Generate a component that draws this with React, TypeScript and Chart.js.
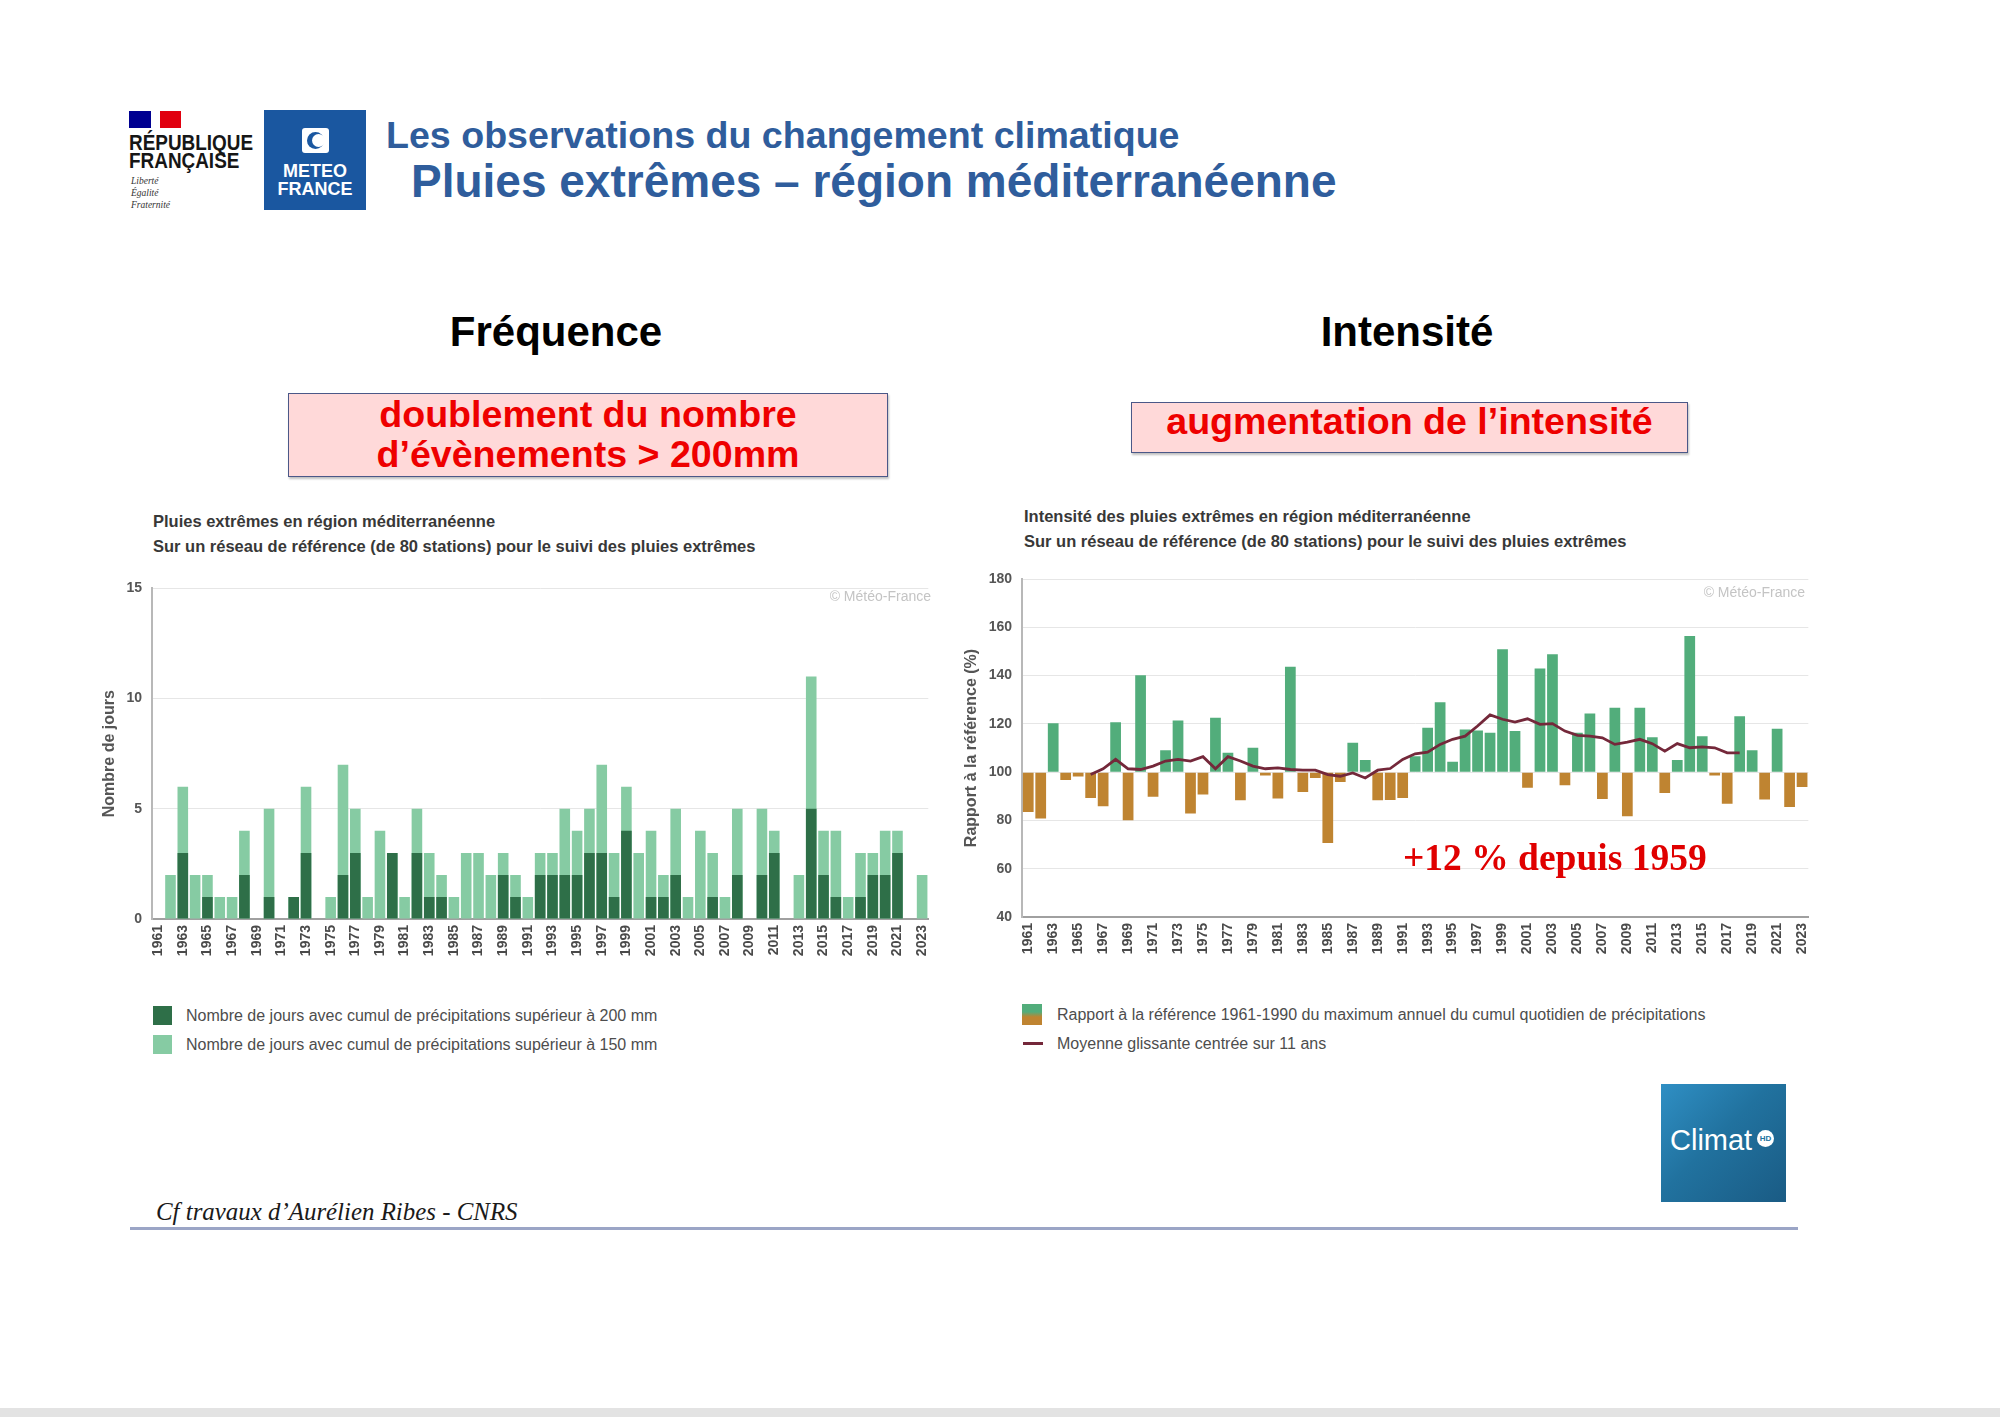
import React, { useEffect, useRef } from "react";
import { Chart, registerables } from "chart.js";

Chart.register(...registerables);

const FONT = '"Liberation Sans", Arial, Helvetica, sans-serif';
const SERIF = '"Liberation Serif", "Times New Roman", serif';

const YEARS = [
  "1961", "1962", "1963", "1964", "1965", "1966", "1967", "1968", "1969", "1970",
  "1971", "1972", "1973", "1974", "1975", "1976", "1977", "1978", "1979", "1980",
  "1981", "1982", "1983", "1984", "1985", "1986", "1987", "1988", "1989", "1990",
  "1991", "1992", "1993", "1994", "1995", "1996", "1997", "1998", "1999", "2000",
  "2001", "2002", "2003", "2004", "2005", "2006", "2007", "2008", "2009", "2010",
  "2011", "2012", "2013", "2014", "2015", "2016", "2017", "2018", "2019", "2020",
  "2021", "2022", "2023",
];

// Days with daily rainfall above 150 mm
const DAYS_150 = [
  0, 2, 6, 2, 2, 1, 1, 4, 0, 5,
  0, 1, 6, 0, 1, 7, 5, 1, 4, 3,
  1, 5, 3, 2, 1, 3, 3, 2, 3, 2,
  1, 3, 3, 5, 4, 5, 7, 3, 6, 3,
  4, 2, 5, 1, 4, 3, 1, 5, 0, 5,
  4, 0, 2, 11, 4, 4, 1, 3, 3, 4,
  4, 0, 2,
];

// Days with daily rainfall above 200 mm
const DAYS_200 = [
  0, 0, 3, 0, 1, 0, 0, 2, 0, 1,
  0, 1, 3, 0, 0, 2, 3, 0, 0, 3,
  0, 3, 1, 1, 0, 0, 0, 0, 2, 1,
  0, 2, 2, 2, 2, 3, 3, 1, 4, 0,
  1, 1, 2, 0, 0, 1, 0, 2, 0, 2,
  3, 0, 0, 5, 2, 1, 0, 1, 2, 2,
  3, 0, 0,
];

// Ratio to 1961-1990 reference of annual max daily rainfall (%)
const INTENSITY = [
  83.5, 80.8, 120.2, 96.7, 98.2, 89.3, 85.9, 120.7, 80.1, 140.1,
  89.8, 109.1, 121.4, 82.9, 90.7, 122.5, 108.0, 88.4, 110.1, 98.6,
  89.1, 143.7, 91.8, 97.6, 70.7, 95.9, 112.2, 105.0, 88.4, 88.5,
  89.3, 106.6, 118.4, 129.0, 104.3, 117.7, 117.3, 116.3, 150.9, 117.0,
  93.5, 142.9, 148.8, 94.6, 116.3, 124.3, 88.9, 126.7, 81.7, 126.7,
  114.5, 91.4, 105.0, 156.4, 114.9, 98.6, 86.9, 123.2, 109.1, 88.7,
  118.0, 85.6, 93.8,
];

// 11-year centred moving average
const MOVING_AVG = [
  null, null, null, null, null, 99.0, 101.4, 105.3, 101.4, 101.1,
  102.5, 104.6, 105.3, 104.6, 106.4, 101.4, 106.4, 104.6, 102.5, 101.4,
  101.8, 101.1, 100.8, 100.8, 99.0, 98.3, 99.7, 97.6, 100.8, 101.5,
  105.3, 107.6, 108.3, 111.5, 113.6, 114.9, 119.1, 123.7, 121.9, 120.7,
  122.1, 119.8, 120.1, 117.0, 115.2, 114.9, 114.2, 111.5, 112.4, 113.6,
  111.8, 108.7, 111.8, 110.1, 110.5, 110.1, 108.0, 108.0, null, null,
  null, null, null,
];

const FREQ_TICKS = [0, 5, 10, 15];
const INT_TICKS = [40, 60, 80, 100, 120, 140, 160, 180];

const LEGEND_200 = "Nombre de jours avec cumul de précipitations supérieur à 200 mm";
const LEGEND_150 = "Nombre de jours avec cumul de précipitations supérieur à 150 mm";
const LEGEND_RATIO = "Rapport à la référence 1961-1990 du maximum annuel du cumul quotidien de précipitations";
const LEGEND_AVG = "Moyenne glissante centrée sur 11 ans";

const DARK_GREEN = "#2e6f48";
const LIGHT_GREEN = "#86cba3";
const GREEN = "#52ad7b";
const BROWN = "#bf8431";
const LINE_COLOR = "#74283a";
const TITLE_BLUE = "#2f5d9c";

const oddYearTick = (i: number) => (i % 2 === 0 ? YEARS[i] : "");

const abs = (left: number, top: number, extra: React.CSSProperties = {}): React.CSSProperties => ({
  position: "absolute",
  left,
  top,
  whiteSpace: "nowrap",
  ...extra,
});

export default function App() {
  const freqRef = useRef<HTMLCanvasElement | null>(null);
  const intRef = useRef<HTMLCanvasElement | null>(null);

  useEffect(() => {
    document.body.style.margin = "0";
    document.body.style.overflow = "hidden";
    Chart.defaults.font.family = FONT;

    const freq = new Chart(freqRef.current as HTMLCanvasElement, {
      type: "bar",
      data: {
        labels: YEARS,
        datasets: [
          {
            label: LEGEND_200,
            data: DAYS_200,
            backgroundColor: DARK_GREEN,
            categoryPercentage: 1,
            barPercentage: 0.86,
          },
          {
            label: LEGEND_150,
            data: DAYS_150,
            backgroundColor: LIGHT_GREEN,
            categoryPercentage: 1,
            barPercentage: 0.86,
          },
        ],
      },
      options: {
        responsive: false,
        animation: false,
        layout: { padding: { top: 13, right: 10, bottom: 0, left: 0 } },
        plugins: { legend: { display: false }, tooltip: { enabled: false } },
        scales: {
          x: {
            stacked: true,
            grid: { display: false, drawTicks: false },
            border: { display: true, color: "#a0a0a0", width: 2 },
            ticks: {
              autoSkip: false,
              minRotation: 90,
              maxRotation: 90,
              padding: 6,
              color: "#4a4a4a",
              font: { size: 14, weight: "bold" },
              callback: (_v: any, i: number) => oddYearTick(i),
            },
            afterFit: (s: any) => {
              s.height = 51;
            },
          },
          y: {
            stacked: false,
            min: FREQ_TICKS[0],
            max: FREQ_TICKS[FREQ_TICKS.length - 1],
            ticks: { stepSize: 5, padding: 10, color: "#555", font: { size: 14, weight: "bold" } },
            grid: { color: "#e6e6e6", drawTicks: false, lineWidth: 1 },
            border: { display: true, color: "#b8b8b8", width: 2 },
            title: {
              display: true,
              text: "Nombre de jours",
              color: "#555",
              font: { size: 16, weight: "bold" },
              padding: { top: 5, bottom: 0 },
            },
            afterFit: (s: any) => {
              s.width = 57;
            },
          },
        },
      },
    } as any);

    const inten = new Chart(intRef.current as HTMLCanvasElement, {
      type: "bar",
      data: {
        labels: YEARS,
        datasets: [
          {
            type: "line",
            label: LEGEND_AVG,
            data: MOVING_AVG,
            borderColor: LINE_COLOR,
            borderWidth: 2.8,
            pointRadius: 0,
            fill: false,
            tension: 0,
            order: 0,
          },
          {
            type: "bar",
            label: LEGEND_RATIO,
            data: INTENSITY,
            base: 100,
            backgroundColor: INTENSITY.map((v) => (v >= 100 ? GREEN : BROWN)),
            categoryPercentage: 1,
            barPercentage: 0.86,
            order: 1,
          },
        ],
      },
      options: {
        responsive: false,
        animation: false,
        layout: { padding: { top: 19, right: 15, bottom: 0, left: 0 } },
        plugins: { legend: { display: false }, tooltip: { enabled: false } },
        scales: {
          x: {
            grid: { display: false, drawTicks: false },
            border: { display: true, color: "#a0a0a0", width: 2 },
            ticks: {
              autoSkip: false,
              minRotation: 90,
              maxRotation: 90,
              padding: 6,
              color: "#4a4a4a",
              font: { size: 14, weight: "bold" },
              callback: (_v: any, i: number) => oddYearTick(i),
            },
            afterFit: (s: any) => {
              s.height = 53;
            },
          },
          y: {
            min: INT_TICKS[0],
            max: INT_TICKS[INT_TICKS.length - 1],
            ticks: { stepSize: 20, padding: 10, color: "#555", font: { size: 14, weight: "bold" } },
            grid: { color: "#e6e6e6", drawTicks: false, lineWidth: 1 },
            border: { display: true, color: "#b8b8b8", width: 2 },
            title: {
              display: true,
              text: "Rapport à la référence (%)",
              color: "#555",
              font: { size: 16, weight: "bold" },
              padding: { top: 7, bottom: 0 },
            },
            afterFit: (s: any) => {
              s.width = 67;
            },
          },
        },
      },
    } as any);

    return () => {
      freq.destroy();
      inten.destroy();
    };
  }, []);

  const subTitle: React.CSSProperties = {
    fontSize: 16.5,
    fontWeight: "bold",
    color: "#383838",
    lineHeight: "25px",
  };
  const legendText: React.CSSProperties = {
    fontSize: 16,
    color: "#4d4d4d",
    lineHeight: "20px",
  };
  const watermark: React.CSSProperties = {
    fontSize: 14,
    color: "#c4c4c4",
    lineHeight: "18px",
    width: 140,
    textAlign: "right",
  };

  return (
    <div
      style={{
        position: "absolute",
        left: 0,
        top: 0,
        width: 2000,
        height: 1417,
        background: "#ffffff",
        overflow: "hidden",
        fontFamily: FONT,
      }}
    >
      {/* République Française logo */}
      <div
        style={abs(129, 111, {
          width: 52,
          height: 17,
          background: "linear-gradient(90deg, #000091 0%, #000091 42%, #ffffff 42%, #ffffff 60%, #e1000f 60%, #e1000f 100%)",
        })}
      />
      <div style={abs(129, 132, { fontSize: 22, fontWeight: "bold", lineHeight: "22px", color: "#161616", transform: "scaleX(0.86)", transformOrigin: "left top" })}>
        RÉPUBLIQUE
      </div>
      <div style={abs(129, 150, { fontSize: 22, fontWeight: "bold", lineHeight: "22px", color: "#161616", transform: "scaleX(0.86)", transformOrigin: "left top" })}>
        FRANÇAISE
      </div>
      <div style={abs(131, 175, { fontFamily: SERIF, fontStyle: "italic", fontSize: 9.5, lineHeight: "12px", color: "#333" })}>
        Liberté
        <br />
        Égalité
        <br />
        Fraternité
      </div>

      {/* Météo-France logo */}
      <div style={abs(264, 110, { width: 102, height: 100, background: "#1a57a0" })}>
        <div style={{ position: "absolute", left: 38, top: 18, width: 27, height: 25, background: "#fff", borderRadius: 3 }}>
          <div style={{ position: "absolute", left: 5, top: 4, width: 17, height: 17, borderRadius: "50%", background: "#1a57a0" }} />
          <div style={{ position: "absolute", left: 10, top: 6, width: 13, height: 13, borderRadius: "50%", background: "#fff" }} />
        </div>
        <div style={{ position: "absolute", left: 0, top: 52, width: 102, textAlign: "center", color: "#fff", fontWeight: "bold", fontSize: 18, lineHeight: "18px" }}>
          METEO
          <br />
          FRANCE
        </div>
      </div>

      {/* Titles */}
      <div style={abs(386, 117, { fontSize: 37.6, fontWeight: "bold", color: TITLE_BLUE, lineHeight: 1 })}>
        Les observations du changement climatique
      </div>
      <div style={abs(411, 158, { fontSize: 46, fontWeight: "bold", color: TITLE_BLUE, lineHeight: 1 })}>
        Pluies extrêmes – région méditerranéenne
      </div>

      {/* Section headings */}
      <div style={abs(356, 311, { width: 400, textAlign: "center", fontSize: 42, fontWeight: "bold", color: "#000", lineHeight: 1 })}>
        Fréquence
      </div>
      <div style={abs(1207, 311, { width: 400, textAlign: "center", fontSize: 42, fontWeight: "bold", color: "#000", lineHeight: 1 })}>
        Intensité
      </div>

      {/* Pink boxes */}
      <div
        style={abs(288, 393, {
          width: 600,
          height: 84,
          boxSizing: "border-box",
          background: "#ffd9d9",
          border: "1.5px solid #4b5888",
          boxShadow: "1px 2px 2px rgba(0,0,0,0.25)",
        })}
      />
      <div style={abs(288, 394, { width: 600, textAlign: "center", fontSize: 37.6, fontWeight: "bold", color: "#ee0000", lineHeight: "40px" })}>
        doublement du nombre
        <br />
        d’évènements &gt; 200mm
      </div>
      <div
        style={abs(1131, 402, {
          width: 557,
          height: 51,
          boxSizing: "border-box",
          background: "#ffd9d9",
          border: "1.5px solid #4b5888",
          boxShadow: "1px 2px 2px rgba(0,0,0,0.25)",
        })}
      />
      <div style={abs(1131, 401, { width: 557, textAlign: "center", fontSize: 37.6, fontWeight: "bold", color: "#ee0000", lineHeight: "40px" })}>
        augmentation de l’intensité
      </div>

      {/* Chart subtitles */}
      <div style={abs(153, 509, subTitle)}>
        Pluies extrêmes en région méditerranéenne
        <br />
        Sur un réseau de référence (de 80 stations) pour le suivi des pluies extrêmes
      </div>
      <div style={abs(1024, 504, subTitle)}>
        Intensité des pluies extrêmes en région méditerranéenne
        <br />
        Sur un réseau de référence (de 80 stations) pour le suivi des pluies extrêmes
      </div>

      {/* Charts */}
      <canvas ref={freqRef} width={850} height={400} style={{ position: "absolute", left: 95, top: 570, width: 850, height: 400 }} />
      <canvas ref={intRef} width={870} height={410} style={{ position: "absolute", left: 955, top: 560, width: 870, height: 410 }} />

      {/* Watermarks */}
      <div style={abs(791, 587, watermark)}>© Météo-France</div>
      <div style={abs(1665, 583, watermark)}>© Météo-France</div>

      {/* Annotation */}
      <div style={abs(1403, 839, { fontFamily: SERIF, fontWeight: "bold", fontSize: 37.5, color: "#e00000", lineHeight: 1 })}>
        +12 % depuis 1959
      </div>

      {/* Left legend */}
      <div style={abs(153, 1006, { width: 19, height: 19, background: DARK_GREEN })} />
      <div style={abs(186, 1006, legendText)}>{LEGEND_200}</div>
      <div style={abs(153, 1035, { width: 19, height: 19, background: LIGHT_GREEN })} />
      <div style={abs(186, 1035, legendText)}>{LEGEND_150}</div>

      {/* Right legend */}
      <div
        style={abs(1022, 1004, {
          width: 20,
          height: 21,
          background: `linear-gradient(to bottom, ${GREEN} 0%, ${GREEN} 38%, ${BROWN} 62%, ${BROWN} 100%)`,
        })}
      />
      <div style={abs(1057, 1005, legendText)}>{LEGEND_RATIO}</div>
      <div style={abs(1023, 1042, { width: 20, height: 3, background: LINE_COLOR })} />
      <div style={abs(1057, 1034, legendText)}>{LEGEND_AVG}</div>

      {/* Climat HD logo */}
      <div
        style={abs(1661, 1084, {
          width: 125,
          height: 118,
          background: "linear-gradient(135deg, #2f8fc4 0%, #21729f 45%, #1a5b84 100%)",
        })}
      >
        <div style={{ position: "absolute", left: 9, top: 40, color: "#fff", fontSize: 29, lineHeight: "32px" }}>Climat</div>
        <div
          style={{
            position: "absolute",
            left: 96,
            top: 46,
            width: 17,
            height: 17,
            borderRadius: "50%",
            background: "#fff",
            color: "#21729f",
            fontSize: 8,
            fontWeight: "bold",
            lineHeight: "17px",
            textAlign: "center",
          }}
        >
          HD
        </div>
      </div>

      {/* Footer */}
      <div style={abs(156, 1200, { fontFamily: SERIF, fontStyle: "italic", fontSize: 24.9, color: "#1a1a1a", lineHeight: 1 })}>
        Cf travaux d’Aurélien Ribes - CNRS
      </div>
      <div style={abs(130, 1227, { width: 1668, height: 3, background: "#9ba5c6" })} />
      <div style={abs(0, 1408, { width: 2000, height: 9, background: "#e3e3e3" })} />
    </div>
  );
}
